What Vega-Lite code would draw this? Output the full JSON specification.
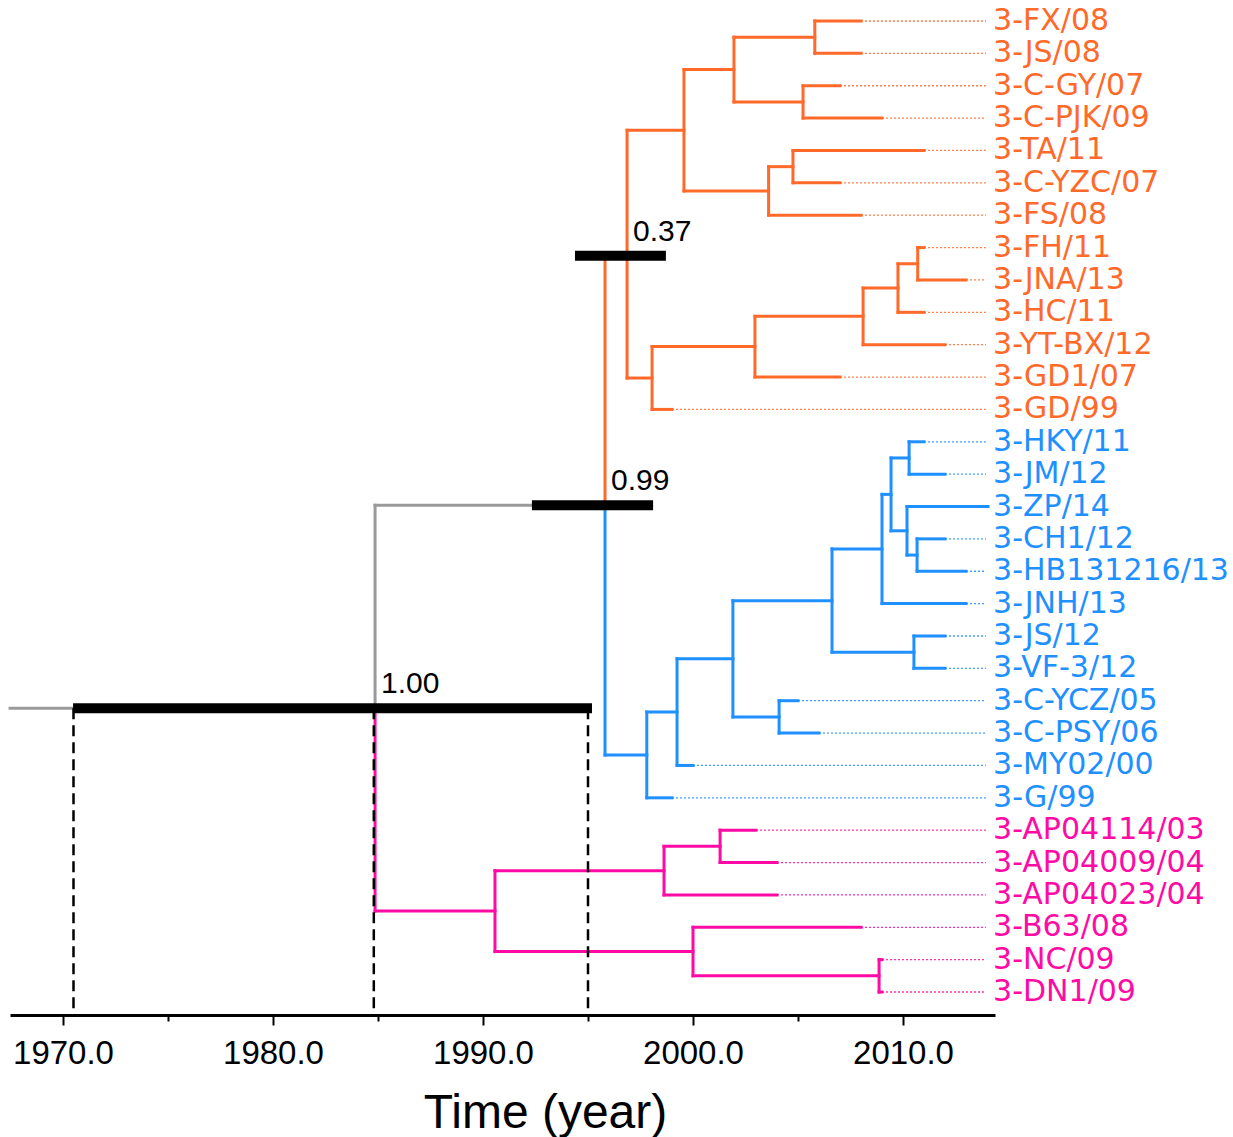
{
  "$schema": "https://vega.github.io/schema/vega-lite/v6.json",
  "width": 985,
  "height": 1015,
  "autosize": "none",
  "padding": {"left": 10, "top": 0, "right": 238, "bottom": 122},
  "background": "white",
  "config": {"view": {"stroke": null}},
  "datasets": {
    "branches": [
      {"x":2005.8,"x2":2008.0,"y":0,"y2":0,"c":"o"},
      {"x":2005.8,"x2":2008.0,"y":1,"y2":1,"c":"o"},
      {"x":2005.8,"x2":2005.8,"y":0,"y2":1,"c":"o"},
      {"x":2005.24,"x2":2007.0,"y":2,"y2":2,"c":"o"},
      {"x":2005.24,"x2":2009.0,"y":3,"y2":3,"c":"o"},
      {"x":2005.24,"x2":2005.24,"y":2,"y2":3,"c":"o"},
      {"x":2001.95,"x2":2005.8,"y":0.5,"y2":0.5,"c":"o"},
      {"x":2001.95,"x2":2005.24,"y":2.5,"y2":2.5,"c":"o"},
      {"x":2001.95,"x2":2001.95,"y":0.5,"y2":2.5,"c":"o"},
      {"x":2004.76,"x2":2011.0,"y":4,"y2":4,"c":"o"},
      {"x":2004.76,"x2":2007.0,"y":5,"y2":5,"c":"o"},
      {"x":2004.76,"x2":2004.76,"y":4,"y2":5,"c":"o"},
      {"x":2003.6,"x2":2004.76,"y":4.5,"y2":4.5,"c":"o"},
      {"x":2003.6,"x2":2008.0,"y":6,"y2":6,"c":"o"},
      {"x":2003.6,"x2":2003.6,"y":4.5,"y2":6,"c":"o"},
      {"x":1999.57,"x2":2001.95,"y":1.5,"y2":1.5,"c":"o"},
      {"x":1999.57,"x2":2003.6,"y":5.25,"y2":5.25,"c":"o"},
      {"x":1999.57,"x2":1999.57,"y":1.5,"y2":5.25,"c":"o"},
      {"x":2010.7,"x2":2011.0,"y":7,"y2":7,"c":"o"},
      {"x":2010.7,"x2":2013.0,"y":8,"y2":8,"c":"o"},
      {"x":2010.7,"x2":2010.7,"y":7,"y2":8,"c":"o"},
      {"x":2009.76,"x2":2010.7,"y":7.5,"y2":7.5,"c":"o"},
      {"x":2009.76,"x2":2011.0,"y":9,"y2":9,"c":"o"},
      {"x":2009.76,"x2":2009.76,"y":7.5,"y2":9,"c":"o"},
      {"x":2008.1,"x2":2009.76,"y":8.25,"y2":8.25,"c":"o"},
      {"x":2008.1,"x2":2012.0,"y":10,"y2":10,"c":"o"},
      {"x":2008.1,"x2":2008.1,"y":8.25,"y2":10,"c":"o"},
      {"x":2002.95,"x2":2008.1,"y":9.125,"y2":9.125,"c":"o"},
      {"x":2002.95,"x2":2007.0,"y":11,"y2":11,"c":"o"},
      {"x":2002.95,"x2":2002.95,"y":9.125,"y2":11,"c":"o"},
      {"x":1998.05,"x2":2002.95,"y":10.06,"y2":10.06,"c":"o"},
      {"x":1998.05,"x2":1999.0,"y":12,"y2":12,"c":"o"},
      {"x":1998.05,"x2":1998.05,"y":10.06,"y2":12,"c":"o"},
      {"x":1996.86,"x2":1999.57,"y":3.375,"y2":3.375,"c":"o"},
      {"x":1996.86,"x2":1998.05,"y":11.03,"y2":11.03,"c":"o"},
      {"x":1996.86,"x2":1996.86,"y":3.375,"y2":11.03,"c":"o"},
      {"x":1995.81,"x2":1996.86,"y":7.25,"y2":7.25,"c":"o"},
      {"x":1995.81,"x2":1995.81,"y":7.25,"y2":14.96,"c":"o"},
      {"x":2010.29,"x2":2011.0,"y":13,"y2":13,"c":"b"},
      {"x":2010.29,"x2":2012.0,"y":14,"y2":14,"c":"b"},
      {"x":2010.29,"x2":2010.29,"y":13,"y2":14,"c":"b"},
      {"x":2010.67,"x2":2012.0,"y":16,"y2":16,"c":"b"},
      {"x":2010.67,"x2":2013.0,"y":17,"y2":17,"c":"b"},
      {"x":2010.67,"x2":2010.67,"y":16,"y2":17,"c":"b"},
      {"x":2010.19,"x2":2014.05,"y":15,"y2":15,"c":"b"},
      {"x":2010.19,"x2":2010.67,"y":16.5,"y2":16.5,"c":"b"},
      {"x":2010.19,"x2":2010.19,"y":15,"y2":16.5,"c":"b"},
      {"x":2009.43,"x2":2010.29,"y":13.5,"y2":13.5,"c":"b"},
      {"x":2009.43,"x2":2010.19,"y":15.75,"y2":15.75,"c":"b"},
      {"x":2009.43,"x2":2009.43,"y":13.5,"y2":15.75,"c":"b"},
      {"x":2009.0,"x2":2009.43,"y":14.625,"y2":14.625,"c":"b"},
      {"x":2009.0,"x2":2013.0,"y":18,"y2":18,"c":"b"},
      {"x":2009.0,"x2":2009.0,"y":14.625,"y2":18,"c":"b"},
      {"x":2010.52,"x2":2012.0,"y":19,"y2":19,"c":"b"},
      {"x":2010.52,"x2":2012.0,"y":20,"y2":20,"c":"b"},
      {"x":2010.52,"x2":2010.52,"y":19,"y2":20,"c":"b"},
      {"x":2006.62,"x2":2009.0,"y":16.31,"y2":16.31,"c":"b"},
      {"x":2006.62,"x2":2010.52,"y":19.5,"y2":19.5,"c":"b"},
      {"x":2006.62,"x2":2006.62,"y":16.31,"y2":19.5,"c":"b"},
      {"x":2004.1,"x2":2005.0,"y":21,"y2":21,"c":"b"},
      {"x":2004.1,"x2":2006.0,"y":22,"y2":22,"c":"b"},
      {"x":2004.1,"x2":2004.1,"y":21,"y2":22,"c":"b"},
      {"x":2001.9,"x2":2006.62,"y":17.91,"y2":17.91,"c":"b"},
      {"x":2001.9,"x2":2004.1,"y":21.5,"y2":21.5,"c":"b"},
      {"x":2001.9,"x2":2001.9,"y":17.91,"y2":21.5,"c":"b"},
      {"x":1999.24,"x2":2001.9,"y":19.7,"y2":19.7,"c":"b"},
      {"x":1999.24,"x2":2000.0,"y":23,"y2":23,"c":"b"},
      {"x":1999.24,"x2":1999.24,"y":19.7,"y2":23,"c":"b"},
      {"x":1997.8,"x2":1999.24,"y":21.35,"y2":21.35,"c":"b"},
      {"x":1997.8,"x2":1999.0,"y":24,"y2":24,"c":"b"},
      {"x":1997.8,"x2":1997.8,"y":21.35,"y2":24,"c":"b"},
      {"x":1995.81,"x2":1997.8,"y":22.68,"y2":22.68,"c":"b"},
      {"x":1995.81,"x2":1995.81,"y":14.96,"y2":22.68,"c":"b"},
      {"x":2001.29,"x2":2003.0,"y":25,"y2":25,"c":"m"},
      {"x":2001.29,"x2":2004.0,"y":26,"y2":26,"c":"m"},
      {"x":2001.29,"x2":2001.29,"y":25,"y2":26,"c":"m"},
      {"x":1998.62,"x2":2001.29,"y":25.5,"y2":25.5,"c":"m"},
      {"x":1998.62,"x2":2004.0,"y":27,"y2":27,"c":"m"},
      {"x":1998.62,"x2":1998.62,"y":25.5,"y2":27,"c":"m"},
      {"x":2008.86,"x2":2009.0,"y":29,"y2":29,"c":"m"},
      {"x":2008.86,"x2":2009.0,"y":30,"y2":30,"c":"m"},
      {"x":2008.86,"x2":2008.86,"y":29,"y2":30,"c":"m"},
      {"x":2000.0,"x2":2008.0,"y":28,"y2":28,"c":"m"},
      {"x":2000.0,"x2":2008.86,"y":29.5,"y2":29.5,"c":"m"},
      {"x":2000.0,"x2":2000.0,"y":28,"y2":29.5,"c":"m"},
      {"x":1990.57,"x2":1998.62,"y":26.25,"y2":26.25,"c":"m"},
      {"x":1990.57,"x2":2000.0,"y":28.75,"y2":28.75,"c":"m"},
      {"x":1990.57,"x2":1990.57,"y":26.25,"y2":28.75,"c":"m"},
      {"x":1984.86,"x2":1990.57,"y":27.5,"y2":27.5,"c":"m"},
      {"x":1984.86,"x2":1984.86,"y":21.23,"y2":27.5,"c":"m"},
      {"x":1967.48,"x2":1984.86,"y":21.23,"y2":21.23,"c":"g"},
      {"x":1984.86,"x2":1995.81,"y":14.96,"y2":14.96,"c":"g"},
      {"x":1984.86,"x2":1984.86,"y":14.96,"y2":21.23,"c":"g"}
    ],
    "tips": [
      {"x":2008.0,"y":0,"label":"3-FX/08","c":"o"},
      {"x":2008.0,"y":1,"label":"3-JS/08","c":"o"},
      {"x":2007.0,"y":2,"label":"3-C-GY/07","c":"o"},
      {"x":2009.0,"y":3,"label":"3-C-PJK/09","c":"o"},
      {"x":2011.0,"y":4,"label":"3-TA/11","c":"o"},
      {"x":2007.0,"y":5,"label":"3-C-YZC/07","c":"o"},
      {"x":2008.0,"y":6,"label":"3-FS/08","c":"o"},
      {"x":2011.0,"y":7,"label":"3-FH/11","c":"o"},
      {"x":2013.0,"y":8,"label":"3-JNA/13","c":"o"},
      {"x":2011.0,"y":9,"label":"3-HC/11","c":"o"},
      {"x":2012.0,"y":10,"label":"3-YT-BX/12","c":"o"},
      {"x":2007.0,"y":11,"label":"3-GD1/07","c":"o"},
      {"x":1999.0,"y":12,"label":"3-GD/99","c":"o"},
      {"x":2011.0,"y":13,"label":"3-HKY/11","c":"b"},
      {"x":2012.0,"y":14,"label":"3-JM/12","c":"b"},
      {"x":2014.05,"y":15,"label":"3-ZP/14","c":"b"},
      {"x":2012.0,"y":16,"label":"3-CH1/12","c":"b"},
      {"x":2013.0,"y":17,"label":"3-HB131216/13","c":"b"},
      {"x":2013.0,"y":18,"label":"3-JNH/13","c":"b"},
      {"x":2012.0,"y":19,"label":"3-JS/12","c":"b"},
      {"x":2012.0,"y":20,"label":"3-VF-3/12","c":"b"},
      {"x":2005.0,"y":21,"label":"3-C-YCZ/05","c":"b"},
      {"x":2006.0,"y":22,"label":"3-C-PSY/06","c":"b"},
      {"x":2000.0,"y":23,"label":"3-MY02/00","c":"b"},
      {"x":1999.0,"y":24,"label":"3-G/99","c":"b"},
      {"x":2003.0,"y":25,"label":"3-AP04114/03","c":"m"},
      {"x":2004.0,"y":26,"label":"3-AP04009/04","c":"m"},
      {"x":2004.0,"y":27,"label":"3-AP04023/04","c":"m"},
      {"x":2008.0,"y":28,"label":"3-B63/08","c":"m"},
      {"x":2009.0,"y":29,"label":"3-NC/09","c":"m"},
      {"x":2009.0,"y":30,"label":"3-DN1/09","c":"m"}
    ],
    "bars": [
      {"x":1970.48,"x2":1995.19,"y":21.23},
      {"x":1992.33,"x2":1998.1,"y":14.96},
      {"x":1994.38,"x2":1998.71,"y":7.25}
    ],
    "dashes": [
      {"x":1970.5,"y":21.23,"y2":30.71},
      {"x":1984.8,"y":21.23,"y2":30.71},
      {"x":1995.0,"y":21.23,"y2":30.71}
    ],
    "nodes": [
      {"x":1984.86,"y":21.23,"label":"1.00"},
      {"x":1995.81,"y":14.96,"label":"0.99"},
      {"x":1996.86,"y":7.25,"label":"0.37"}
    ]
  },
  "encoding": {
    "x": {
      "field": "x", "type": "quantitative", "title": "Time (year)",
      "scale": {"domain": [1967.476, 2014.381], "nice": false, "zero": false},
      "axis": {
        "values": [1970, 1975, 1980, 1985, 1990, 1995, 2000, 2005, 2010],
        "labelExpr": "datum.value % 10 === 0 ? format(datum.value, '.1f') : ''",
        "grid": false,
        "domainColor": "#000000", "domainWidth": 3,
        "tickColor": "#000000", "tickWidth": 2,
        "tickSize": {"condition": {"test": "datum.value % 10 === 0", "value": 10}, "value": 6},
        "labelFont": "Liberation Sans", "labelFontSize": 33, "labelColor": "#000000",
        "labelBaseline": "alphabetic", "labelPadding": 38, "labelFlush": false, "labelOverlap": false,
        "titleFont": "Liberation Sans", "titleFontSize": 48, "titleFontWeight": "normal", "titleColor": "#000000",
        "titleX": 535, "titleY": 112, "titleBaseline": "alphabetic", "titleAlign": "center", "titleAnchor": null
      }
    },
    "y": {
      "field": "y", "type": "quantitative", "axis": null,
      "scale": {"domain": [-0.649, 30.71], "nice": false, "zero": false, "reverse": true}
    },
    "color": {
      "field": "c", "type": "nominal", "legend": null,
      "scale": {"domain": ["o", "b", "m", "g"], "range": ["#ff6a2a", "#1e90ff", "#ff0aa5", "#9a9a9a"]}
    }
  },
  "layer": [
    {
      "data": {"name": "branches"},
      "mark": {"type": "rule", "strokeWidth": 3, "strokeCap": "square"},
      "encoding": {"x2": {"field": "x2"}, "y2": {"field": "y2"}}
    },
    {
      "data": {"name": "tips"},
      "transform": [{"filter": "datum.x < 2013.9"}],
      "mark": {"type": "rule", "strokeWidth": 1.3, "strokeDash": [2, 2], "opacity": 0.85},
      "encoding": {"x2": {"datum": 2013.95}}
    },
    {
      "data": {"name": "dashes"},
      "mark": {"type": "rule", "strokeWidth": 2.5, "strokeDash": [11, 6]},
      "encoding": {"y2": {"field": "y2"}, "color": {"value": "#000000"}}
    },
    {
      "data": {"name": "bars"},
      "mark": {"type": "rule", "strokeWidth": 10},
      "encoding": {"x2": {"field": "x2"}, "color": {"value": "#000000"}}
    },
    {
      "data": {"name": "nodes"},
      "mark": {"type": "text", "align": "left", "baseline": "alphabetic", "dx": 6, "dy": -15, "font": "Liberation Sans", "fontSize": 30},
      "encoding": {"text": {"field": "label"}, "color": {"value": "#000000"}}
    },
    {
      "data": {"name": "tips"},
      "mark": {"type": "text", "align": "left", "baseline": "middle", "font": "DejaVu Sans", "fontSize": 30},
      "encoding": {
        "x": {"datum": 2014.29, "type": "quantitative", "title": "Time (year)"},
        "text": {"field": "label"}
      }
    }
  ]
}
